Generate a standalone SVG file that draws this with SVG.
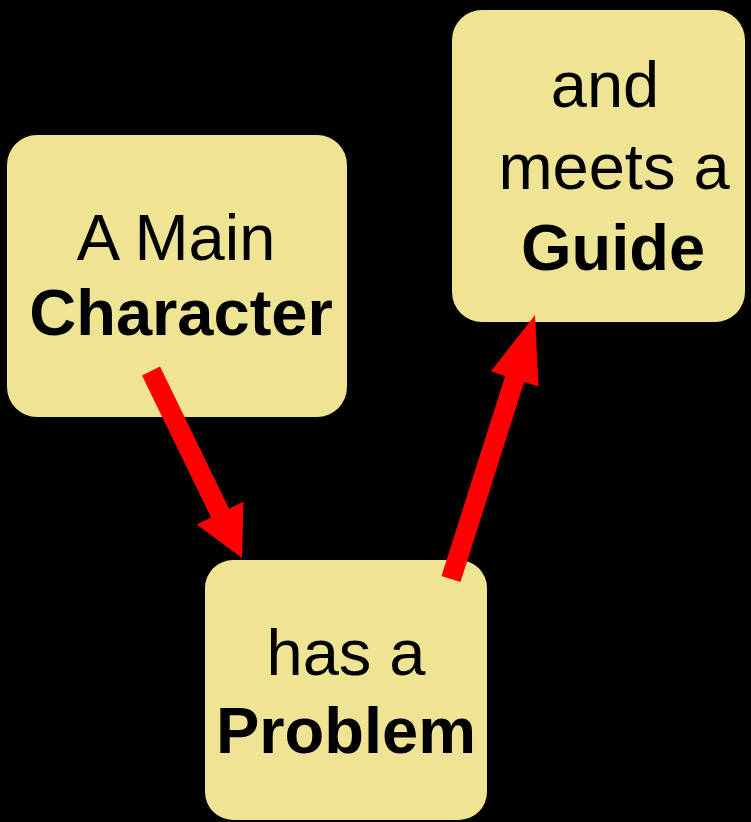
<svg xmlns="http://www.w3.org/2000/svg" width="751" height="822" viewBox="0 0 751 822">
<style>
.box{fill:#EFE394;}
.t{font-family:"Liberation Sans",Arial,sans-serif;font-size:65px;fill:#000;text-anchor:middle;}
.b{font-weight:bold;}
.arrow{fill:#FF0000;stroke:none;}
</style>
<rect x="0" y="0" width="751" height="822" fill="#000"/>
<g id="node-character">
<rect class="box" x="7" y="135" width="340" height="282" rx="30" ry="30"/>
<text class="t" x="176" y="260">A Main</text>
<text class="t b" x="181" y="335">Character</text>
</g>
<g id="node-problem">
<rect class="box" x="205" y="560" width="282" height="260" rx="28" ry="28"/>
<text class="t" x="346" y="675">has a</text>
<text class="t b" x="346" y="753">Problem</text>
</g>
<g id="node-guide">
<rect class="box" x="452" y="10" width="293" height="312" rx="30" ry="30"/>
<text class="t" x="605" y="107">and</text>
<text class="t" x="614" y="189">meets a</text>
<text class="t b" x="613" y="270">Guide</text>
</g>
<g id="connectors">
<polygon class="arrow" points="160,366.6 229.1,508.7 243.5,501.7 242,558 196.7,524.4 211.1,517.4 142,375.4"/>
<polygon class="arrow" points="460.5,582 524.2,381.9 538.5,386.5 535,315 490.9,371.3 505.2,375.9 441.5,576"/>
</g>
</svg>
